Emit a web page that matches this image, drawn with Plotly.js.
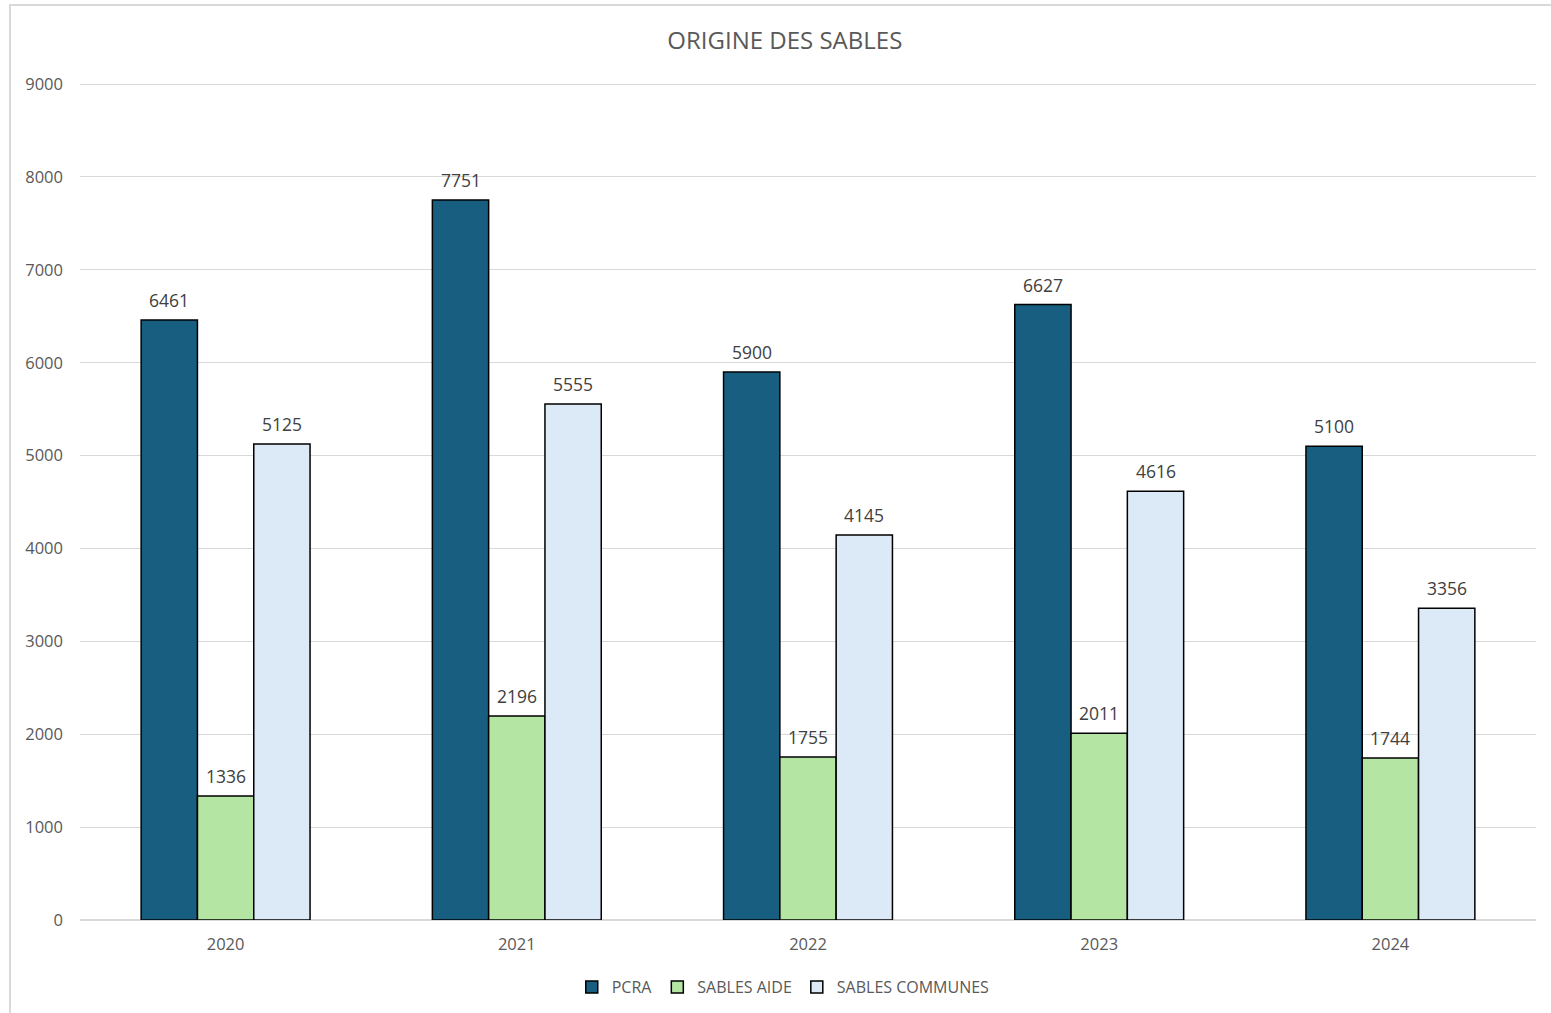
<!DOCTYPE html>
<html>
<head>
<meta charset="utf-8">
<script src="https://cdn.plot.ly/plotly-3.0.1.min.js"></script>
<style>html,body{margin:0;padding:0;background:#fff;}#chart{width:1551px;height:1013px;}</style>
</head>
<body>
<div id="chart"></div>
<script>
const years = ["2020", "2021", "2022", "2023", "2024"];
const pcra = [6461, 7751, 5900, 6627, 5100];
const sablesAide = [1336, 2196, 1755, 2011, 1744];
const sablesCommunes = [5125, 5555, 4145, 4616, 3356];
const yTicks = [0, 1000, 2000, 3000, 4000, 5000, 6000, 7000, 8000, 9000];
const seriesNames = ["PCRA", "SABLES AIDE", "SABLES COMMUNES"];
const seriesValues = [pcra, sablesAide, sablesCommunes];
const seriesColors = ["#175E80", "#B4E5A2", "#DCE9F7"];

const font = "'Open Sans', Roboto, sans-serif";
const bargap = 0.42;
const barW = (1 - bargap) / seriesValues.length;

const data = seriesValues.map((vals, i) => ({
  type: "bar", name: seriesNames[i], x: years, y: vals,
  marker: {color: seriesColors[i], line: {color: "#000000", width: 1.5}},
  hoverinfo: "x+y"
}));

const annotations = [];
seriesValues.forEach((vals, i) => {
  vals.forEach((v, j) => {
    annotations.push({
      xref: "x", yref: "y", x: j + (i - 1) * barW, y: v,
      text: String(v), showarrow: false, xanchor: "center", yanchor: "bottom",
      yshift: 6, font: {family: font, size: 17.5, color: "#404040"}
    });
  });
});

const layout = {
  width: 1551, height: 1013,
  margin: {l: 80, r: 15, t: 83, b: 93, autoexpand: false},
  paper_bgcolor: "#ffffff", plot_bgcolor: "#ffffff",
  title: {text: "ORIGINE DES SABLES", x: 0.506, xanchor: "center", y: 0.96, yanchor: "middle",
          font: {family: font, size: 24, color: "#595959"}},
  barmode: "group", bargap: bargap, bargroupgap: 0,
  xaxis: {type: "category", showgrid: false, showline: false, zeroline: false, ticks: "", automargin: false,
          tickfont: {family: font, size: 16.5, color: "#595959"}, ticklabelstandoff: 12},
  yaxis: {range: [0, 9012], tickvals: yTicks, ticktext: yTicks.map(String), automargin: false,
          showgrid: true, gridcolor: "#D9D9D9", gridwidth: 1.3, zeroline: true, zerolinecolor: "#D9D9D9", zerolinewidth: 1.5,
          showline: false, ticks: "", ticklabelstandoff: 16,
          tickfont: {family: font, size: 16.5, color: "#595959"}},
  showlegend: true,
  legend: {orientation: "h", x: 0.483, xanchor: "center", y: -0.060, yanchor: "top",
           font: {family: font, size: 16, color: "#595959"}, traceorder: "normal", itemwidth: 30},
  annotations: annotations,
  shapes: [{type: "rect", xref: "paper", yref: "paper", x0: -0.0481, x1: 1.2, y0: -0.3, y1: 1.0933,
            line: {color: "#D9D9D9", width: 2}, fillcolor: "rgba(0,0,0,0)", layer: "below"}]
};
Plotly.newPlot("chart", data, layout, {displayModeBar: false});
</script>
</body>
</html>
